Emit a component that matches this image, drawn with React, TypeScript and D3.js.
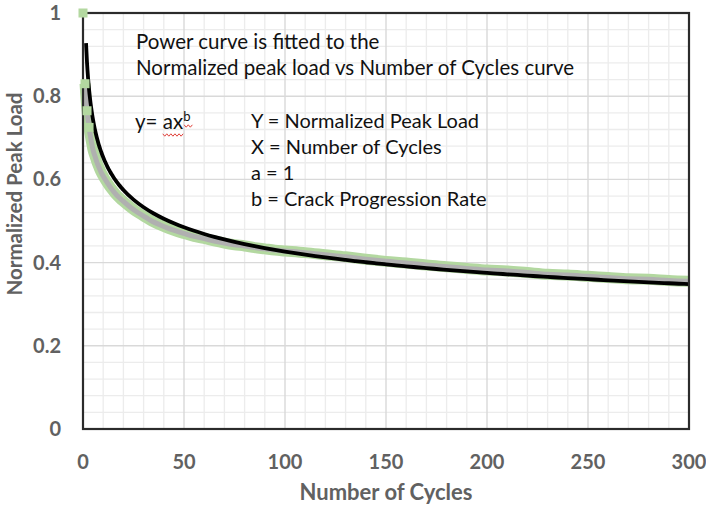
import React, { useRef, useEffect } from 'react'
import * as d3 from 'd3'

const cycles = [
  0, 1, 2, 3, 4, 5, 6, 7, 8, 9, 10, 12, 14, 16, 18, 20, 23, 26, 30, 34, 38, 42, 46, 50, 55, 60, 65, 70,
  75, 80, 85, 90, 95, 100, 110, 120, 130, 140, 150, 160, 170, 180, 190, 200, 210, 220, 230, 240, 250,
  260, 270, 280, 290, 300,
]
const peakLoad = [
  1.0, 0.83, 0.765, 0.725, 0.695, 0.67, 0.655, 0.64, 0.628, 0.617, 0.608, 0.592, 0.578, 0.566, 0.556,
  0.547, 0.535, 0.524, 0.512, 0.5, 0.491, 0.483, 0.476, 0.47, 0.463, 0.458, 0.452, 0.447, 0.443, 0.44,
  0.436, 0.433, 0.43, 0.428, 0.424, 0.419, 0.414, 0.408, 0.403, 0.399, 0.394, 0.39, 0.386, 0.382, 0.38,
  0.376, 0.372, 0.37, 0.367, 0.364, 0.361, 0.36, 0.357, 0.355,
]

// power trendline y = a * x^b
const fitA = 1
const fitB = -0.185
const fitStart = 1.5

const xTicks = [0, 50, 100, 150, 200, 250, 300]
const yTicks = [0, 0.2, 0.4, 0.6, 0.8, 1]
const yTickLabels = ['0', '0.2', '0.4', '0.6', '0.8', '1']

const noteLines = ['Power curve is fitted to the', 'Normalized peak load vs Number of Cycles curve']
const legendLines = ['Y = Normalized Peak Load', 'X = Number of Cycles', 'a = 1', 'b = Crack Progression Rate']

const FONT = 'Lato, "Noto Sans", sans-serif'
const AXIS_GREY = '#616161'
const GREEN = '#b3d8a0'

export default function App() {
  const svgRef = useRef<SVGSVGElement>(null)

  useEffect(() => {
    if (!svgRef.current) return
    const svg = d3.select(svgRef.current)
    svg.selectAll('*').remove()

    const left = 83
    const right = 689
    const top = 13
    const bottom = 429

    const x = d3.scaleLinear().domain([0, 300]).range([left, right])
    const y = d3.scaleLinear().domain([0, 1]).range([bottom, top])

    svg.append('rect').attr('width', 706).attr('height', 509).attr('fill', '#fff')

    // grid: minor then major
    const grid = svg.append('g')
    grid
      .selectAll('.vminor')
      .data(d3.range(10, 300, 10).filter(v => v % 50 !== 0))
      .enter()
      .append('line')
      .attr('x1', d => x(d))
      .attr('x2', d => x(d))
      .attr('y1', top)
      .attr('y2', bottom)
      .attr('stroke', '#ececec')
      .attr('stroke-width', 1.3)
    grid
      .selectAll('.hminor')
      .data(d3.range(1, 25).filter(i => i % 5 !== 0).map(i => i * 0.04))
      .enter()
      .append('line')
      .attr('x1', left)
      .attr('x2', right)
      .attr('y1', d => y(d))
      .attr('y2', d => y(d))
      .attr('stroke', '#ececec')
      .attr('stroke-width', 1.3)
    grid
      .selectAll('.vmajor')
      .data(xTicks.slice(1, -1))
      .enter()
      .append('line')
      .attr('x1', d => x(d))
      .attr('x2', d => x(d))
      .attr('y1', top)
      .attr('y2', bottom)
      .attr('stroke', '#d9d9d9')
      .attr('stroke-width', 1.4)
    grid
      .selectAll('.hmajor')
      .data(yTicks.slice(1, -1))
      .enter()
      .append('line')
      .attr('x1', left)
      .attr('x2', right)
      .attr('y1', d => y(d))
      .attr('y2', d => y(d))
      .attr('stroke', '#d9d9d9')
      .attr('stroke-width', 1.4)

    // data series: green markers with grey connecting line
    const pts: [number, number][] = cycles.map((c, i) => [c, peakLoad[i]])
    const line = d3
      .line<[number, number]>()
      .x(d => x(d[0]))
      .y(d => y(d[1]))
      .curve(d3.curveMonotoneX)
    svg
      .append('path')
      .attr('d', line(pts.slice(1)))
      .attr('fill', 'none')
      .attr('stroke', GREEN)
      .attr('stroke-width', 11)
      .attr('stroke-linejoin', 'round')
    svg
      .append('path')
      .attr('d', line(pts.slice(1)))
      .attr('fill', 'none')
      .attr('stroke', '#b0b0b0')
      .attr('stroke-width', 5)
      .attr('stroke-linejoin', 'round')

    // power trendline
    const fitX = [fitStart, ...d3.range(2, 20, 0.5), ...d3.range(20, 301, 5)]
    svg
      .append('path')
      .attr('d', line(fitX.map(v => [v, fitA * Math.pow(v, fitB)] as [number, number])))
      .attr('fill', 'none')
      .attr('stroke', '#000')
      .attr('stroke-width', 3.8)
      .attr('stroke-linejoin', 'round')

    // plot border
    svg
      .append('rect')
      .attr('x', left)
      .attr('y', top)
      .attr('width', right - left)
      .attr('height', bottom - top)
      .attr('fill', 'none')
      .attr('stroke', '#2b2b2b')
      .attr('stroke-width', 2.2)

    // the distinct early markers sit over the axis
    svg
      .append('g')
      .selectAll('rect')
      .data(pts.slice(0, 4))
      .enter()
      .append('rect')
      .attr('x', d => x(d[0]) - 4.5)
      .attr('y', d => y(d[1]) - 4.5)
      .attr('width', 9)
      .attr('height', 9)
      .attr('fill', GREEN)

    // tick labels
    svg
      .append('g')
      .selectAll('text')
      .data(xTicks)
      .enter()
      .append('text')
      .attr('x', d => x(d))
      .attr('y', 469)
      .attr('text-anchor', 'middle')
      .style('font-family', FONT)
      .style('font-size', '20px')
      .style('font-weight', 'bold')
      .style('fill', AXIS_GREY)
      .text(d => String(d))
    svg
      .append('g')
      .selectAll('text')
      .data(yTicks)
      .enter()
      .append('text')
      .attr('x', 61)
      .attr('y', d => y(d) + 7)
      .attr('text-anchor', 'end')
      .style('font-family', FONT)
      .style('font-size', '20px')
      .style('font-weight', 'bold')
      .style('fill', AXIS_GREY)
      .text((_d, i) => yTickLabels[i])

    // axis titles
    svg
      .append('text')
      .attr('x', 386)
      .attr('y', 500)
      .attr('text-anchor', 'middle')
      .style('font-family', FONT)
      .style('font-size', '22px')
      .style('font-weight', 'bold')
      .style('fill', AXIS_GREY)
      .text('Number of Cycles')
    svg
      .append('text')
      .attr('transform', 'translate(22, 194) rotate(-90)')
      .attr('text-anchor', 'middle')
      .style('font-family', FONT)
      .style('font-size', '20.5px')
      .style('font-weight', 'bold')
      .style('fill', AXIS_GREY)
      .text('Normalized Peak Load')

    // annotations
    const note = svg.append('g').style('font-family', FONT).style('font-size', '20.5px').style('fill', '#111')
    noteLines.forEach((t, i) => {
      note
        .append('text')
        .attr('x', 136)
        .attr('y', 49 + i * 26)
        .text(t)
    })
    legendLines.forEach((t, i) => {
      note
        .append('text')
        .attr('x', 251)
        .attr('y', 128 + i * 26)
        .style('font-size', '20px')
        .text(t)
    })

    const eq = note.append('text').attr('x', 135).attr('y', 129)
    eq.append('tspan').text('y= ')
    eq.append('tspan').text('ax')
    eq.append('tspan').attr('dy', -8).style('font-size', '13px').text('b')

    // spell-check squiggles under "ax" and "b"
    const eqNode = eq.node() as SVGTextElement
    const axStart = eqNode.getStartPositionOfChar(3).x
    const axEnd = eqNode.getEndPositionOfChar(4).x
    const bEnd = eqNode.getEndPositionOfChar(5).x
    const squiggle = (x0: number, x1: number, yy: number) => {
      const n = Math.max(2, Math.round((x1 - x0) / 2))
      const zig: [number, number][] = d3.range(n + 1).map(i => [x0 + ((x1 - x0) * i) / n, yy + (i % 2 ? 1.2 : -1.2)])
      return d3.line()(zig)
    }
    note
      .append('path')
      .attr('d', squiggle(axStart, axEnd, 135))
      .attr('fill', 'none')
      .attr('stroke', '#e0403a')
      .attr('stroke-width', 1)
    note
      .append('path')
      .attr('d', squiggle(axEnd + 1, bEnd + 2, 126))
      .attr('fill', 'none')
      .attr('stroke', '#e0403a')
      .attr('stroke-width', 1)
  }, [])

  return (
    <svg
      ref={svgRef}
      width={706}
      height={509}
      style={{ position: 'absolute', left: 0, top: 0, display: 'block' }}
    />
  )
}
